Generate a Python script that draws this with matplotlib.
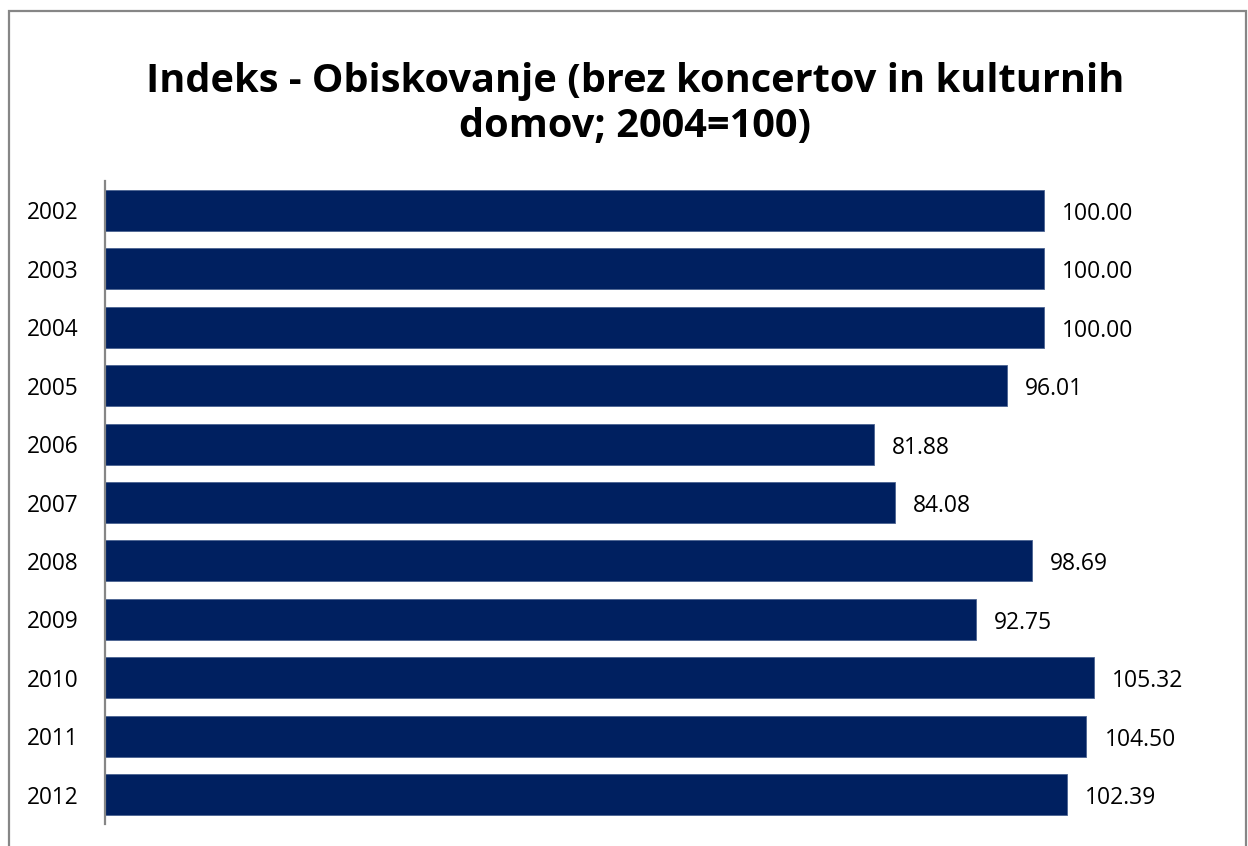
import matplotlib.pyplot as plt
from matplotlib.patches import Rectangle

# data
years = ['2002', '2003', '2004', '2005', '2006', '2007',
         '2008', '2009', '2010', '2011', '2012']
index_values = [100.00, 100.00, 100.00, 96.01, 81.88, 84.08,
                98.69, 92.75, 105.32, 104.50, 102.39]

title = 'Indeks - Obiskovanje (brez koncertov in kulturnih\ndomov; 2004=100)'

plt.rcParams['font.family'] = ['Open Sans', 'DejaVu Sans']

fig = plt.figure(figsize=(12.48, 8.46), dpi=100)
ax = fig.add_axes([105 / 1248, 22 / 846, (1232 - 105) / 1248, (824 - 181) / 846])

pos = list(range(len(years)))
ax.barh(pos, index_values, height=0.70, color='#002060',
        edgecolor='#4a6290', linewidth=0.6)

for p, v in zip(pos, index_values):
    ax.annotate(f'{v:.2f}', (v, p), xytext=(13, -2.5), textcoords='offset points',
                va='center', ha='left', fontsize=16.5, color='black')

ax.set_ylim(len(years) - 0.5, -0.5)
ax.set_xlim(0, 120)
ax.set_yticks(pos)
ax.set_yticklabels(years, fontsize=16.3)
ax.tick_params(axis='y', length=0, pad=19)
ax.set_xticks([])

for side in ['top', 'right', 'bottom']:
    ax.spines[side].set_visible(False)
ax.spines['left'].set_color('#868686')
ax.spines['left'].set_linewidth(1.6)

fig.text(635 / 1248, 1 - 104 / 846, title, ha='center', va='center',
         fontsize=28.6, fontweight='bold', linespacing=1.2)

# chart border
fig.patches.append(Rectangle((9 / 1248, -0.05), (1246 - 9) / 1248, 1.05 - 11 / 846,
                             transform=fig.transFigure, fill=False,
                             edgecolor='#868686', linewidth=1.6))

fig.savefig('out.png', dpi=100)
